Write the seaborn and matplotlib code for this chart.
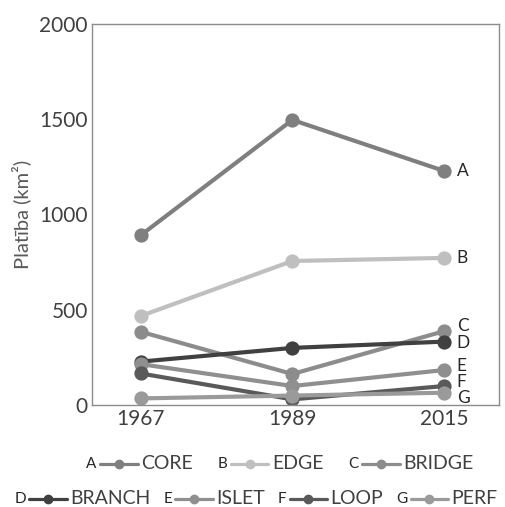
import matplotlib
matplotlib.use("Agg")
import matplotlib.pyplot as plt
import seaborn as sns
import pandas as pd
from matplotlib.lines import Line2D
from matplotlib.offsetbox import TextArea, DrawingArea, HPacker, AnchoredOffsetbox

years = ["1967", "1989", "2015"]
letters = ["A", "B", "C", "D", "E", "F", "G"]
names = ["CORE", "EDGE", "BRIDGE", "BRANCH", "ISLET", "LOOP", "PERF"]
core = [890, 1496, 1228]
edge = [467, 756, 772]
bridge = [385, 163, 388]
branch = [228, 300, 333]
islet = [215, 100, 184]
loop = [166, 30, 100]
perf = [35, 50, 65]

colors = ["#7f7f7f", "#bfbfbf", "#8c8c8c", "#404040", "#8f8f8f", "#595959", "#9a9a9a"]
label_dy = [0, 0, 4, -1, 3, 3, -4]

series = [core, edge, bridge, branch, islet, loop, perf]
rows = []
for name, vals in zip(names, series):
    for y, v in zip(years, vals):
        rows.append({"year": y, "area": v, "series": name})
df = pd.DataFrame(rows)

sns.set_style("white")
plt.rcParams["font.family"] = ["Lato", "DejaVu Sans"]

fig = plt.figure(figsize=(5.05, 5.07), dpi=100)
ax = fig.add_axes([0.182, 0.201, 0.806, 0.752])

sns.pointplot(data=df, x="year", y="area", hue="series", hue_order=names,
              palette=colors, markers="o", linestyles="-", markersize=8,
              linewidth=3, legend=False, ax=ax)

ax.set_ylim(0, 2000)
ax.set_xlim(-0.32, 2.36)
ax.set_yticks([0, 500, 1000, 1500, 2000])
ax.set_xlabel("")
ax.set_ylabel("Platība (km²)", fontsize=14.5, color="#595959", labelpad=6)
ax.tick_params(axis="both", labelsize=15, labelcolor="#404040", length=0, pad=3)
for sp in ax.spines.values():
    sp.set_color("#8c8c8c")
    sp.set_linewidth(1)

for let, vals, dy in zip(letters, series, label_dy):
    ax.annotate(let, xy=(2, vals[-1]), xytext=(9, dy), textcoords="offset points",
                va="center", ha="left", fontsize=12.5, color="#262626")


def item(let, name, col):
    t1 = TextArea(let, textprops=dict(fontsize=11, color="#262626"))
    da = DrawingArea(27, 8, 0, 0)
    da.add_artist(Line2D([0, 27], [4, 4], color=col, lw=2.3))
    da.add_artist(Line2D([13.5], [4], marker="o", color=col, markersize=6))
    t2 = TextArea(name, textprops=dict(fontsize=14, color="#404040"))
    return HPacker(children=[t1, da, t2], align="center", pad=0, sep=2.5)


items = [item(l, n, c) for l, n, c in zip(letters, names, colors)]
row1 = HPacker(children=items[:3], align="center", pad=0, sep=18)
row2 = HPacker(children=items[3:], align="center", pad=0, sep=9)
for row, xy in [(row1, (0.554, 0.085)), (row2, (0.507, 0.016))]:
    anch = AnchoredOffsetbox(loc="center", child=row, frameon=False,
                             bbox_to_anchor=xy, bbox_transform=fig.transFigure,
                             borderpad=0, pad=0)
    fig.add_artist(anch)

fig.savefig("out.png", dpi=100)
